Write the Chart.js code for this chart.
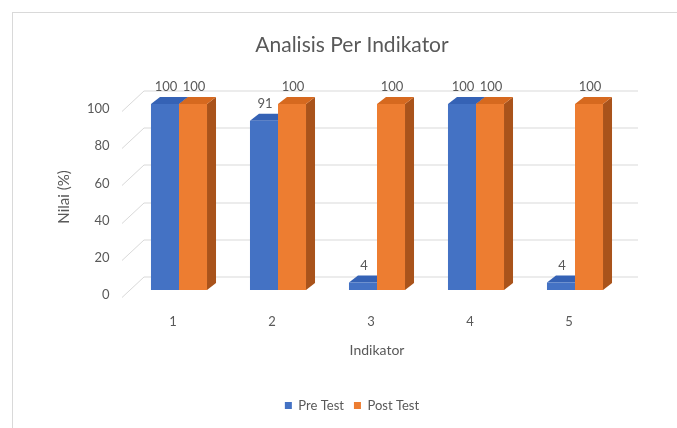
<!DOCTYPE html>
<html><head><meta charset="utf-8">
<script src="https://cdn.jsdelivr.net/npm/chart.js@4.4.0/dist/chart.umd.min.js"></script>
<style>html,body{margin:0;padding:0;background:#fff;}#wrap{width:677px;height:428px;}</style>
</head><body><div id="wrap"><canvas id="c" width="677" height="428"></canvas></div>
<script>
const categories = ['1', '2', '3', '4', '5'];
const preTest = [100, 91, 4, 100, 4];
const postTest = [100, 100, 100, 100, 100];
const yTicks = [0, 20, 40, 60, 80, 100];
const seriesNames = ['Pre Test', 'Post Test'];

const frontColors = ['#4472C4', '#ED7D31'];
const topColors = ['#3562B5', '#D6691F'];
const sideColors = ['#2E559C', '#A9531B'];
const TXT = '#595959';
const DX = 9, DY = -7;

Chart.defaults.font.family = 'Lato, "Open Sans", sans-serif';

const framePlugin = {
  id: 'frame',
  beforeDraw(chart) {
    const ctx = chart.ctx;
    ctx.save();
    ctx.fillStyle = '#fff';
    ctx.fillRect(0, 0, chart.width, chart.height);
    ctx.strokeStyle = '#d9d9d9';
    ctx.lineWidth = 1;
    ctx.strokeRect(12.5, 12.5, 720, 460);
    ctx.restore();
  }
};

const depthPlugin = {
  id: 'depth3d',
  beforeDatasetsDraw(chart) {
    const {ctx, chartArea: a, scales: {y}} = chart;
    ctx.save();
    ctx.strokeStyle = '#d9d9d9';
    ctx.lineWidth = 1;
    yTicks.forEach(v => {
      const py = Math.round(y.getPixelForValue(v)) + 0.5;
      ctx.beginPath();
      ctx.moveTo(a.left - 7.5, py + 7);
      ctx.lineTo(a.left + 14.5, py - 13.5);
      ctx.lineTo(a.right + 13.5, py - 13.5);
      ctx.stroke();
    });
    [0, 1].forEach(di => {
      const meta = chart.getDatasetMeta(di);
      meta.data.forEach(bar => {
        const p = bar.getProps(['x', 'y', 'base', 'width'], true);
        const l = p.x - p.width / 2, r = p.x + p.width / 2, t = p.y, b = p.base;
        ctx.fillStyle = sideColors[di];
        ctx.beginPath();
        ctx.moveTo(r, t); ctx.lineTo(r + DX, t + DY); ctx.lineTo(r + DX, b + DY); ctx.lineTo(r, b);
        ctx.closePath(); ctx.fill();
        ctx.fillStyle = topColors[di];
        ctx.beginPath();
        ctx.moveTo(l, t); ctx.lineTo(l + DX, t + DY); ctx.lineTo(r + DX, t + DY); ctx.lineTo(r, t);
        ctx.closePath(); ctx.fill();
      });
    });
    ctx.restore();
  },
  afterDatasetsDraw(chart) {
    const ctx = chart.ctx;
    ctx.save();
    ctx.fillStyle = TXT;
    ctx.font = '13px Lato, "Open Sans", sans-serif';
    ctx.textAlign = 'center';
    ctx.textBaseline = 'middle';
    chart.data.datasets.forEach((ds, di) => {
      const meta = chart.getDatasetMeta(di);
      meta.data.forEach((bar, i) => {
        const p = bar.getProps(['x', 'y'], true);
        ctx.fillText(String(ds.data[i]), p.x + 1, p.y - 17);
      });
    });
    ctx.restore();
  }
};

new Chart(document.getElementById('c'), {
  type: 'bar',
  data: {
    labels: categories,
    datasets: [
      { label: seriesNames[0], data: preTest, backgroundColor: frontColors[0], borderWidth: 0,
        barPercentage: 1, categoryPercentage: 0.566 },
      { label: seriesNames[1], data: postTest, backgroundColor: frontColors[1], borderWidth: 0,
        barPercentage: 1, categoryPercentage: 0.566 }
    ]
  },
  options: {
    responsive: false,
    devicePixelRatio: 1,
    animation: false,
    layout: { padding: { left: 79.5, right: 52.5, top: 0, bottom: 6 } },
    plugins: {
      title: {
        display: true, text: 'Analisis Per Indikator', color: TXT,
        font: { size: 21, weight: 'normal' }, padding: { top: 32.4, bottom: 46.4 }
      },
      legend: {
        position: 'bottom',
        labels: { boxWidth: 7, boxHeight: 7, color: TXT, font: { size: 13 }, padding: 10 }
      },
      tooltip: { enabled: false }
    },
    scales: {
      x: {
        grid: { display: false, drawTicks: false },
        border: { display: false },
        ticks: { color: TXT, font: { size: 13 }, padding: 24, labelOffset: -6 },
        title: { display: true, text: 'Indikator', color: TXT, font: { size: 14 }, padding: { top: 0, bottom: 30.6 } },
        afterFit(s) { s.height = 99; }
      },
      y: {
        min: 0, max: 100,
        grid: { display: false, drawTicks: false },
        border: { display: false },
        ticks: { stepSize: 20, color: TXT, font: { size: 13 }, padding: 20, labelOffset: 5 },
        title: { display: true, text: 'Nilai (%)', color: TXT, font: { size: 15 }, padding: { top: -24.5, bottom: 0 } },
        afterFit(s) { s.width = 50; }
      }
    }
  },
  plugins: [framePlugin, depthPlugin]
});
</script>
</body></html>
